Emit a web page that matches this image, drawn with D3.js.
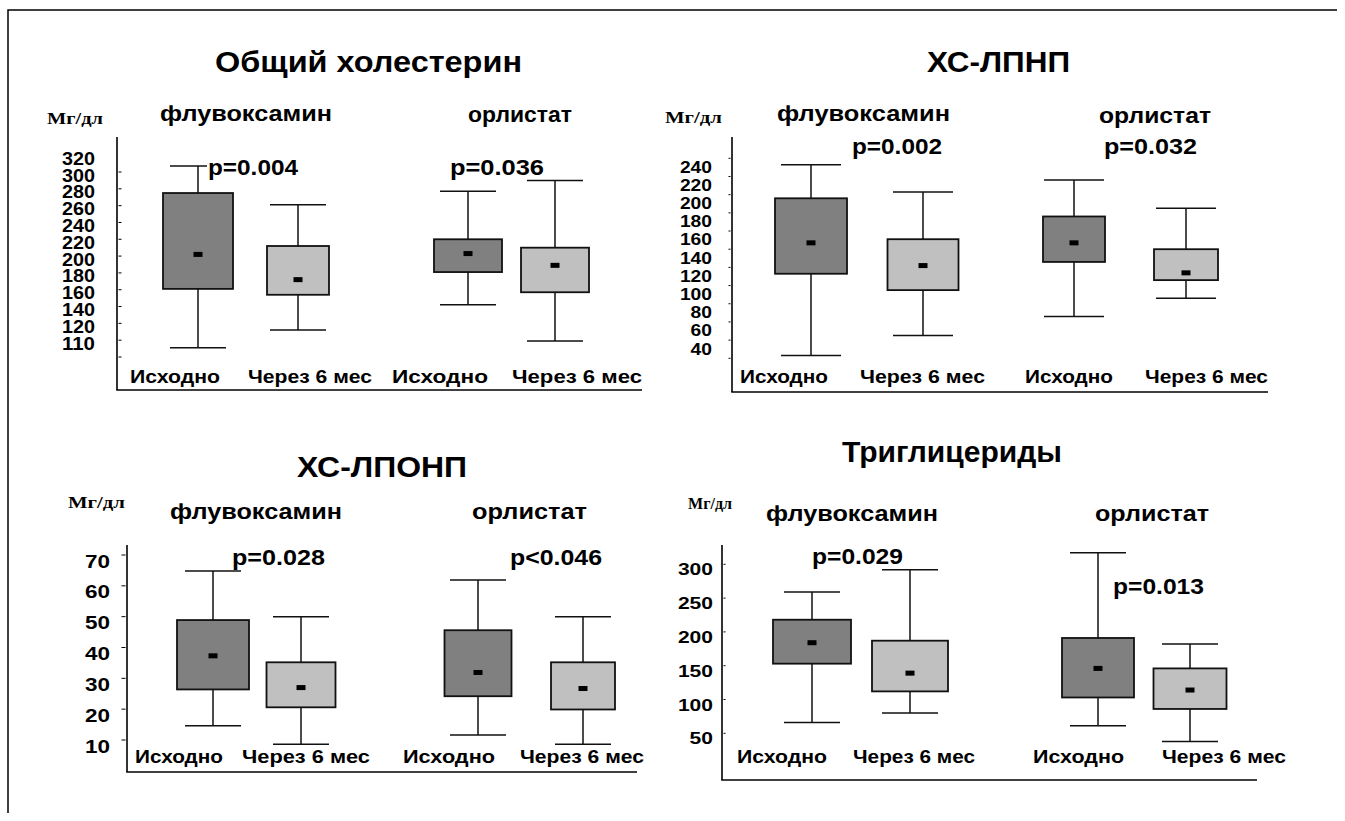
<!DOCTYPE html>
<html>
<head>
<meta charset="utf-8">
<script src="https://cdn.jsdelivr.net/npm/d3@7"></script>
<style>
  html, body { margin: 0; padding: 0; background: #fff; }
  svg { display: block; }
</style>
</head>
<body>
<script>
// Lipid profile box plots: fluvoxamine vs orlistat, baseline vs 6 months

const panelTitles = ["Общий холестерин", "ХС-ЛПНП", "ХС-ЛПОНП", "Триглицериды"];
const drugs = ["флувоксамин", "орлистат"];
const timepoints = ["Исходно", "Через 6 мес"];
const unitLabel = "Мг/дл";

// five-number summaries [min, q1, median, q3, max]
// order: fluvoxamine baseline, fluvoxamine 6 mo, orlistat baseline, orlistat 6 mo
const totalCholesterol = [
  [91, 161, 202, 275, 307],
  [112, 154, 172, 212, 261],
  [142, 181, 203, 220, 277],
  [99, 157, 189, 210, 290]
];
const ldlCholesterol = [
  [23, 113, 147, 196, 233],
  [45, 95, 122, 151, 203],
  [66, 126, 147, 176, 216],
  [86, 106, 114, 140, 185]
];
const vldlCholesterol = [
  [14.6, 26.4, 37.3, 48.9, 64.8],
  [8.6, 20.6, 27, 35.2, 50],
  [11.6, 24.2, 31.9, 45.6, 61.9],
  [8.6, 19.9, 26.7, 35.2, 50]
];
const triglycerides = [
  [66, 153, 184, 218, 259],
  [80, 112, 139, 187, 292],
  [61, 103, 146, 191, 317],
  [38, 86, 114, 146, 182]
];

const pValues = [
  ["p=0.004", "p=0.036"],
  ["p=0.002", "p=0.032"],
  ["p=0.028", "p<0.046"],
  ["p=0.029", "p=0.013"]
];

// y-axis tick marks and tick labels
const tcTicks = [300, 280, 260, 240, 220, 200, 180, 160, 140, 120, 100, 80];
const tcLabelValues = [320, 300, 280, 260, 240, 220, 200, 180, 160, 140, 120, 100];
const tcLabelText = ["320", "300", "280", "260", "240", "220", "200", "180", "160", "140", "120", "110"];
const ldlTicks = [240, 220, 200, 180, 160, 140, 120, 100, 80, 60, 40, 20];
const ldlLabelValues = [240, 220, 200, 180, 160, 140, 120, 100, 80, 60, 40];
const vldlTicks = [70, 60, 50, 40, 30, 20, 10];
const tgTicks = [300, 250, 200, 150, 100, 50];

const datasets = [totalCholesterol, ldlCholesterol, vldlCholesterol, triglycerides];
const tickSets = [tcTicks, ldlTicks, vldlTicks, tgTicks];
const labelValueSets = [tcLabelValues, ldlLabelValues, vldlTicks, tgTicks];
const labelTextSets = [tcLabelText, ldlLabelValues.map(String), vldlTicks.map(String), tgTicks.map(String)];

// ---------- layout ----------
const SANS = "'Liberation Sans', Arial, Helvetica, sans-serif";
const SERIF = "'Liberation Serif', 'Times New Roman', serif";
const fills = ["#808080", "#c0c0c0"];

const layout = [
  { // total cholesterol
    title: [215, 522, 62], unit: [47, 103, 118], drug: [[160, 332, 113], [468, 572, 114]],
    p: [[208, 298, 168], [450, 544, 168]],
    cats: [[130, 220], [248, 372], [392, 488], [512, 642]], catY: 377,
    yDomain: [300, 80], yRange: [172, 357],
    axisX: 117, axisTop: 137, axisBottom: 390, axisEnd: 642,
    tickSide: 1, tickLen: 3, labelRight: 95, labelDy: 3, labelSize: 18.5, digitW: 11,
    centers: [198, 298, 468, 555], widths: [70, 62, 68, 68], capHalf: 28
  },
  { // LDL
    title: [927, 1070, 62], unit: [665, 722, 117], drug: [[777, 950, 113], [1099, 1211, 115]],
    p: [[852, 942, 147], [1104, 1197, 147]],
    cats: [[740, 828], [860, 985], [1025, 1113], [1145, 1268]], catY: 377,
    yDomain: [240, 20], yRange: [158.3, 358.3],
    axisX: 732, axisTop: 137, axisBottom: 392, axisEnd: 1268,
    tickSide: -1, tickLen: 2, labelRight: 712, labelDy: 8.4, labelSize: 16.5, digitW: 10.7,
    centers: [811, 923, 1074, 1186], widths: [72, 71, 62, 64], capHalf: 30
  },
  { // VLDL
    title: [297, 467, 467], unit: [68, 125, 502], drug: [[170, 342, 511], [472, 587, 511]],
    p: [[232, 325, 558], [510, 602, 558]],
    cats: [[135, 223], [242, 370], [403, 495], [520, 644]], catY: 757,
    yDomain: [70, 10], yRange: [555, 740],
    axisX: 127, axisTop: 545, axisBottom: 772, axisEnd: 637,
    tickSide: -1, tickLen: 4, labelRight: 110, labelDy: 6, labelSize: 18.5, digitW: 12.5,
    centers: [213, 301, 478, 583], widths: [72, 69, 67, 64], capHalf: 28
  },
  { // triglycerides
    title: [842, 1062, 452], unit: [688, 732, 503], drug: [[766, 938, 513], [1095, 1209, 513]],
    p: [[812, 903, 557], [1113, 1204, 587]],
    cats: [[737, 827], [853, 975], [1033, 1124], [1162, 1286]], catY: 757,
    yDomain: [300, 50], yRange: [564.3, 733.3],
    axisX: 722, axisTop: 545, axisBottom: 780, axisEnd: 1257,
    tickSide: 1, tickLen: 2, labelRight: 713, labelDy: 5.5, labelSize: 17, digitW: 11.7,
    centers: [812, 910, 1098, 1190], widths: [78, 76, 72, 73], capHalf: 28
  }
];

const svg = d3.select("body").append("svg")
  .attr("width", 1345).attr("height", 821);

// outer frame
svg.append("path")
  .attr("d", "M8,813 L8,10 L1337,10")
  .attr("fill", "none").attr("stroke", "#000").attr("stroke-width", 1.5);

function boldText(g, str, x0, x1, cy, size, family) {
  return g.append("text")
    .attr("x", x0).attr("y", cy)
    .attr("dominant-baseline", "central")
    .attr("font-family", family || SANS)
    .attr("font-weight", "bold")
    .attr("font-size", size)
    .attr("textLength", x1 - x0)
    .attr("lengthAdjust", "spacingAndGlyphs")
    .attr("fill", "#000")
    .text(str);
}

layout.forEach((L, pi) => {
  const g = svg.append("g");
  const data = datasets[pi];
  const y = d3.scaleLinear().domain(L.yDomain).range(L.yRange);

  // axes lines
  g.append("line")
    .attr("x1", L.axisX).attr("x2", L.axisX)
    .attr("y1", L.axisTop).attr("y2", L.axisBottom)
    .attr("stroke", "#000").attr("stroke-width", 1.6);
  g.append("line")
    .attr("x1", L.axisX - 0.8).attr("x2", L.axisEnd)
    .attr("y1", L.axisBottom).attr("y2", L.axisBottom)
    .attr("stroke", "#000").attr("stroke-width", 1.6);

  // tick marks
  g.selectAll("line.tick").data(tickSets[pi]).join("line")
    .attr("class", "tick")
    .attr("x1", L.axisX + L.tickSide * 1.5)
    .attr("x2", L.axisX + L.tickSide * (1.5 + L.tickLen))
    .attr("y1", d => y(d)).attr("y2", d => y(d))
    .attr("stroke", "#000").attr("stroke-width", 1);

  // tick labels
  const lv = labelValueSets[pi], lt = labelTextSets[pi];
  lv.forEach((v, i) => {
    const w = lt[i].length * L.digitW;
    boldText(g, lt[i], L.labelRight - w, L.labelRight, y(v) + L.labelDy, L.labelSize);
  });

  // boxes
  data.forEach((d, bi) => {
    const [mn, q1, med, q3, mx] = d;
    const cx = L.centers[bi], w = L.widths[bi];
    const stroke = "#111";
    // whisker stems
    g.append("line").attr("x1", cx).attr("x2", cx)
      .attr("y1", y(mx)).attr("y2", y(q3))
      .attr("stroke", stroke).attr("stroke-width", 1.5);
    g.append("line").attr("x1", cx).attr("x2", cx)
      .attr("y1", y(q1)).attr("y2", y(mn))
      .attr("stroke", stroke).attr("stroke-width", 1.5);
    // caps
    [mx, mn].forEach(v => {
      g.append("line")
        .attr("x1", cx - L.capHalf).attr("x2", cx + L.capHalf)
        .attr("y1", y(v)).attr("y2", y(v))
        .attr("stroke", stroke).attr("stroke-width", 1.5);
    });
    // box
    g.append("rect")
      .attr("x", cx - w / 2).attr("y", y(q3))
      .attr("width", w).attr("height", y(q1) - y(q3))
      .attr("fill", fills[bi % 2])
      .attr("stroke", stroke).attr("stroke-width", 1.8);
    // median marker
    g.append("rect")
      .attr("x", cx - 4.5).attr("y", y(med) - 2.5)
      .attr("width", 9).attr("height", 5)
      .attr("fill", "#000");
  });

  // titles and labels
  boldText(g, panelTitles[pi], L.title[0], L.title[1], L.title[2], 29);
  boldText(g, unitLabel, L.unit[0], L.unit[1], L.unit[2], 16, SERIF);
  drugs.forEach((dname, di) => {
    const [x0, x1, cy] = L.drug[di];
    boldText(g, dname, x0, x1, cy, 22);
  });
  pValues[pi].forEach((ptxt, di) => {
    const [x0, x1, cy] = L.p[di];
    g.append("rect")
      .attr("x", x0 - 1).attr("y", cy - 11)
      .attr("width", x1 - x0 + 2).attr("height", 19)
      .attr("fill", "#fff");
    boldText(g, ptxt, x0, x1, cy, 21.5);
  });
  L.cats.forEach((c, ci) => {
    boldText(g, timepoints[ci % 2], c[0], c[1], L.catY, 18);
  });
});
</script>
</body>
</html>
